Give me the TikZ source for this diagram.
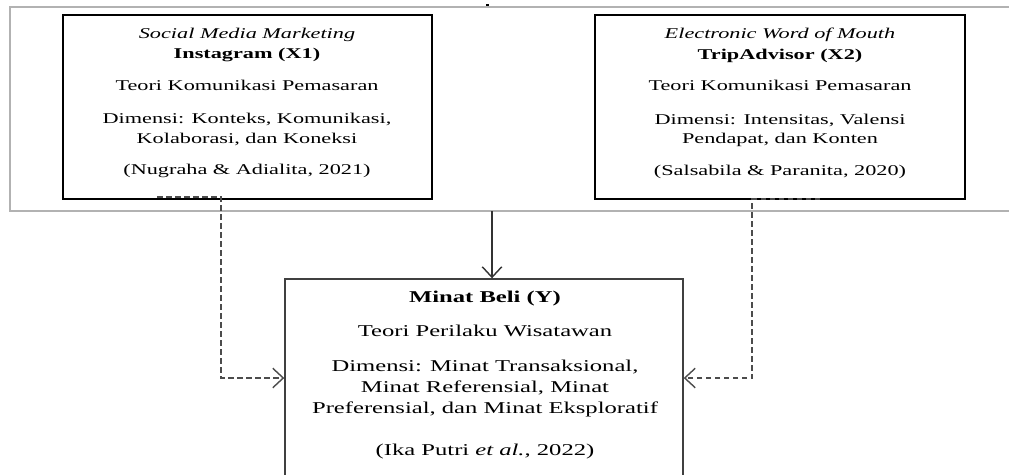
\documentclass[tikz,border=0pt]{standalone}
\usepackage{fontspec}
\setmainfont{Liberation Serif}[FakeStretch=1.49]
\usetikzlibrary{fit,arrows.meta}
\newcommand{\xfont}{\fontsize{8.5}{11}\selectfont}
\newcommand{\yfont}{\fontsize{9.4}{12.1}\selectfont}
\tikzset{
	frm/.style={draw=black!30,line width=0.7pt,inner sep=0pt},
	xbox/.style={draw=black,line width=1.3pt,inner sep=0pt},
	ybox/.style={draw=black!75,line width=0.8pt,inner sep=0pt},
	txt/.style={align=center,inner sep=0pt,anchor=north},
	dsh/.style={draw=black!70,line width=0.8pt,dash pattern=on 1.1mm off 0.7mm},
	>={Straight Barb[length=2.1mm,width=3.9mm]}
}

\begin{document}
\begin{tikzpicture}[x=0.2mm,y=-0.2mm]
	\useasboundingbox (0,0) rectangle (1009,474);
	\clip (0,0) rectangle (1009,474);
	\node[frm,fit={(10,7) (1030,211)}](frame){};
	\node[xbox,fit={(63,15) (432,199)}](X1){};
	\node[xbox,fit={(595,15) (965,199)}](X2){};
	\node[ybox,fit={(285,279) (683,477)}](Y){};
	\fill (486,3.5) rectangle (489,6);
	
	\node[txt,font=\xfont](X1t) at (247,28){\textit{Social Media Marketing}\\[0.5pt]\textbf{Instagram (X1)}\\[7pt]Teori Komunikasi Pemasaran\\[8pt]Dimensi: Konteks, Komunikasi,\\Kolaborasi, dan Koneksi\\[7pt](Nugraha \& Adialita, 2021)};
	\node[txt,font=\xfont](X2t) at (780,28){\textit{Electronic Word of Mouth}\\[0.5pt]\textbf{TripAdvisor (X2)}\\[7pt]Teori Komunikasi Pemasaran\\[8pt]Dimensi: Intensitas, Valensi\\Pendapat, dan Konten\\[7pt](Salsabila \& Paranita, 2020)};
	\node[txt,font=\yfont](Yt) at (485,291){\textbf{Minat Beli (Y)}\\[7.3pt]Teori Perilaku Wisatawan\\[7.3pt]Dimensi: Minat Transaksional,\\Minat Referensial, Minat\\Preferensial, dan Minat Eksploratif\\[11.9pt](Ika Putri \textit{et al.}, 2022)};
	
	\coordinate(a0) at (492,211);
	\coordinate(s1) at (157,197);
	\coordinate(s2) at (820,199);
	\draw[black!80,line width=0.8pt,->] (a0)--(a0 |- Y.north);
	\draw[dsh,->] (s1)--++(64,0)|-(Y.west);
	\draw[dsh,->] (s2)--++(-68,0)|-(Y.east);
\end{tikzpicture}
\end{document}
